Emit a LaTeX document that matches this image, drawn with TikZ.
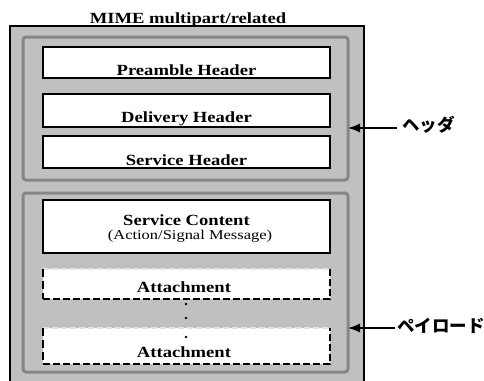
\documentclass[tikz,border=0pt]{standalone}
\usepackage{graphicx}
\usepackage{fontspec}
\setmainfont{Liberation Serif}
\newfontfamily\jpfont{Noto Sans CJK JP}
\usetikzlibrary{arrows.meta}
\definecolor{bggray}{HTML}{C0C0C0}
\definecolor{grpgray}{HTML}{868686}
\definecolor{topgray}{HTML}{E4E4E4}
\newcommand{\wide}[1]{\scalebox{1.2}[1]{#1}}
\newcommand{\wider}[1]{\scalebox{1.22}[1]{#1}}
\begin{document}
\begin{tikzpicture}[x=1pt,y=-1pt,
  outerbox/.style={draw=black, line width=1.5pt, fill=bggray, inner sep=0pt, outer sep=0pt, anchor=north west},
  group/.style={draw=grpgray, line width=3pt, rounded corners=3pt, fill=bggray, inner sep=0pt, outer sep=0pt, anchor=north west},
  wbox/.style={draw=black, line width=1.6pt, fill=white, inner sep=0pt, outer sep=0pt, anchor=north west, minimum width=287pt},
  abox/.style={fill=white, inner sep=0pt, outer sep=0pt, anchor=north west, minimum width=287pt},
  lbl/.style={anchor=base, inner sep=0pt, font=\fontsize{15.5}{17}\selectfont\bfseries},
  sublbl/.style={anchor=base, inner sep=0pt, font=\fontsize{13.5}{15}\selectfont},
  jlabel/.style={anchor=west, inner sep=0pt, font=\jpfont\bfseries\fontsize{17.5}{20}\selectfont},
  arr/.style={draw=black, line width=1.3pt, -{Latex[length=12pt,width=9pt]}},
  dot/.style={circle, fill=black, inner sep=0pt, minimum size=2.6pt},
  dashb/.style={draw=black, line width=1.8pt, dash pattern=on 7pt off 3pt},
  dashl/.style={draw=black, line width=1.2pt, dash pattern=on 8pt off 4pt},
  dasht/.style={draw=topgray, line width=1.2pt, dash pattern=on 6pt off 3pt}]
\clip (0,0) rectangle (484,380);
\useasboundingbox (0,0) rectangle (484,380);

% title
\node[lbl] (title) at (188,23) {\wide{MIME multipart/related}};

% outer box (cut off at the bottom)
\node[outerbox, minimum width=354pt, minimum height=370pt] (outer) at (10,26) {};

% groups
\node[group, minimum width=325pt, minimum height=143pt] (hgroup) at (23,37) {};
\node[group, minimum width=325pt, minimum height=179pt] (pgroup) at (23,193) {};

% header boxes
\node[wbox, minimum height=31pt] (pre) at (43,47) {};
\node[lbl] (pretext) at (186.5,75) {\wide{Preamble Header}};
\node[wbox, minimum height=33pt] (del) at (43,94) {};
\node[lbl] (deltext) at (186.5,122) {\wide{Delivery Header}};
\node[wbox, minimum height=32pt] (svh) at (43,136) {};
\node[lbl] (svhtext) at (186.5,165) {\wide{Service Header}};

% service content
\node[wbox, minimum height=53pt] (svc) at (43,200) {};
\node[lbl] (svctext) at (186.5,225) {\wide{Service Content}};
\node[sublbl] (svcsub) at (190,239) {\wider{(Action/Signal Message)}};

% attachments
\node[abox, minimum height=30pt] (att1) at (43,269) {};
\draw[dasht] (att1.north west) -- (att1.north east);
\draw[dashl] (att1.north west) -- (att1.south west);
\draw[dashb] (att1.south west) -- (att1.south east) -- (att1.north east);
\node[lbl] (att1text) at (184,292) {\wide{Attachment}};

\node[abox, minimum height=36pt] (att2) at (43,328) {};
\draw[dasht] (att2.north west) -- (att2.north east);
\draw[dashl] (att2.north west) -- (att2.south west);
\draw[dashb] (att2.south west) -- (att2.south east) -- (att2.north east);
\node[lbl] (att2text) at (184,357) {\wide{Attachment}};

% dots
\node[dot] (d1) at (186,304) {};
\node[dot] (d2) at (186,318) {};
\node[dot] (d3) at (186,337) {};

% side labels and arrows
\node[jlabel] (hl) at (402,125) {ヘッダ};
\coordinate (ha) at (397,128);
\draw[arr] (ha) -- (ha -| hgroup.east);

\node[jlabel] (pl) at (397,325.5) {ペイロード};
\coordinate (pa) at (395,328);
\draw[arr] (pa) -- (pa -| pgroup.east);
\end{tikzpicture}
\end{document}
